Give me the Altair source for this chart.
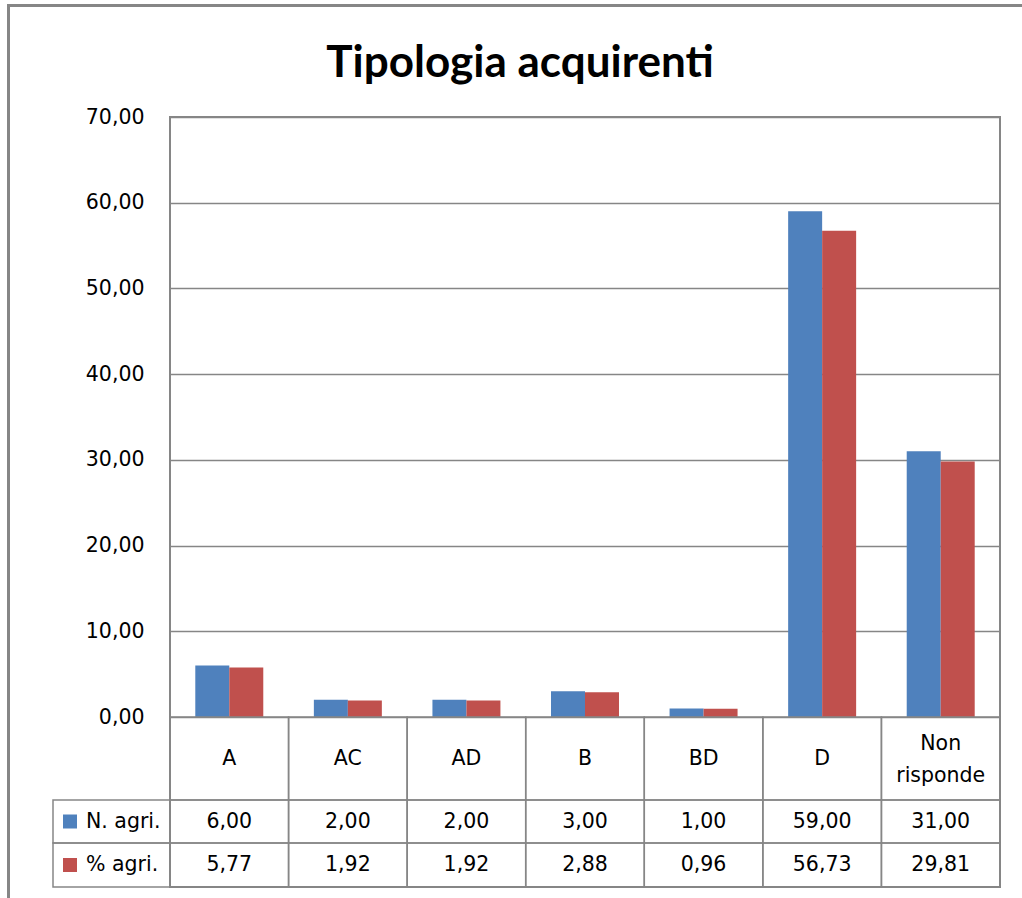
import altair as alt
import pandas as pd

categories = ["A", "AC", "AD", "B", "BD", "D", "Non\nrisponde"]
series = ["N. agri.", "% agri."]
n_agri = [6.00, 2.00, 2.00, 3.00, 1.00, 59.00, 31.00]
pct_agri = [5.77, 1.92, 1.92, 2.88, 0.96, 56.73, 29.81]
y_ticks = [0, 10, 20, 30, 40, 50, 60, 70]
colors = ["#4F81BD", "#C0504D"]

W, H = 830, 770
BAR_H = 600
GRAY = "#868686"
FONT = "DejaVu Sans"
FS = 20.5
LH = 32

long_rows = []
for c, a, b in zip(categories, n_agri, pct_agri):
    long_rows.append({"category": c, "series": series[0], "value": a})
    long_rows.append({"category": c, "series": series[1], "value": b})
df = pd.DataFrame(long_rows)
cat_df = pd.DataFrame({"category": categories, "n": n_agri, "p": pct_agri})
leg_df = pd.DataFrame({"series": series})
one = pd.DataFrame({"k": [0]})

fmt = "replace(format(datum.{f}, '.2f'), '.', ',')"
xscale = alt.Scale(domain=categories, paddingInner=0, paddingOuter=0)
cscale = alt.Scale(domain=series, range=colors)
xenc = alt.X("category:N", scale=xscale, axis=None, sort=categories)

bars = alt.Chart(df).mark_bar().encode(
    x=xenc,
    xOffset=alt.XOffset("series:N", scale=alt.Scale(domain=series, paddingInner=0, paddingOuter=0.744)),
    y=alt.Y("value:Q", scale=alt.Scale(domain=[0, 70], range=[BAR_H, 0], nice=False),
            axis=alt.Axis(values=y_ticks, title=None, ticks=False, domain=False,
                          labelExpr="replace(format(datum.value, '.2f'), '.', ',')",
                          labelFont=FONT, labelFontSize=FS, labelColor="#000",
                          labelPadding=26, grid=True, gridColor=GRAY, gridWidth=1.5)),
    color=alt.Color("series:N", scale=cscale, legend=None),
)

rows = [(BAR_H, 683), (683, 726), (726, H)]
cells = []
for y1, y2 in rows:
    cells.append(alt.Chart(cat_df).mark_rect(fill=None, stroke=GRAY, strokeWidth=1.5).encode(
        x=xenc, y=alt.value(y1), y2=alt.value(y2)))

hc = (rows[0][0] + rows[0][1]) / 2
header_src = alt.Chart(cat_df).transform_calculate(
    multi="indexof(datum.category, '\\n') >= 0")
header1 = header_src.transform_filter("!datum.multi").mark_text(
    font=FONT, fontSize=FS, baseline="middle", color="#000").encode(
    x=xenc, y=alt.value(hc), text="category:N")
header2 = header_src.transform_filter("datum.multi").mark_text(
    font=FONT, fontSize=FS, lineBreak="\n", lineHeight=LH, baseline="middle", color="#000").encode(
    x=xenc, y=alt.value(hc - LH / 2 + 1), text="category:N")

n_text = alt.Chart(cat_df).transform_calculate(lbl=fmt.format(f="n")).mark_text(
    font=FONT, fontSize=FS, baseline="middle", color="#000").encode(
    x=xenc, y=alt.value((rows[1][0] + rows[1][1]) / 2), text="lbl:N")

p_text = alt.Chart(cat_df).transform_calculate(lbl=fmt.format(f="p")).mark_text(
    font=FONT, fontSize=FS, baseline="middle", color="#000").encode(
    x=xenc, y=alt.value((rows[2][0] + rows[2][1]) / 2), text="lbl:N")

legend_layers = []
for i, s in enumerate(series):
    y1, y2 = rows[i + 1]
    src = alt.Chart(leg_df).transform_filter(alt.datum.series == s)
    legend_layers.append(src.mark_rect(fill=None, stroke=GRAY, strokeWidth=1.5).encode(
        x=alt.value(-117), x2=alt.value(0), y=alt.value(y1), y2=alt.value(y2)))
    legend_layers.append(src.mark_square(size=196, opacity=1).encode(
        x=alt.value(-100), y=alt.value((y1 + y2) / 2),
        color=alt.Color("series:N", scale=cscale, legend=None)))
    legend_layers.append(src.mark_text(font=FONT, fontSize=FS, align="left", baseline="middle",
                                       color="#000").encode(
        x=alt.value(-84), y=alt.value((y1 + y2) / 2), text="series:N"))

frame_left = alt.Chart(one).mark_rule(color=GRAY, strokeWidth=3).encode(
    x=alt.value(-161.5), y=alt.value(-113), y2=alt.value(H + 20))
frame_top = alt.Chart(one).mark_rule(color=GRAY, strokeWidth=3).encode(
    y=alt.value(-111.5), x=alt.value(-163), x2=alt.value(W + 30))

chart = alt.layer(bars, *cells, header1, header2, n_text, p_text, *legend_layers,
                  frame_left, frame_top).properties(
    width=W, height=H,
    title=alt.Title("Tipologia acquirenti", font="Lato", fontSize=44, fontWeight="bold",
                    color="#000", anchor="middle", dx=-65, offset=-83),
    autosize=alt.AutoSizeParams(type="none"),
    padding={"left": 170, "top": 117, "right": 22, "bottom": 11},
    background="white",
).configure_view(stroke=GRAY, strokeWidth=2)

chart.save("out.html", embed_options={"renderer": "svg", "actions": False})
